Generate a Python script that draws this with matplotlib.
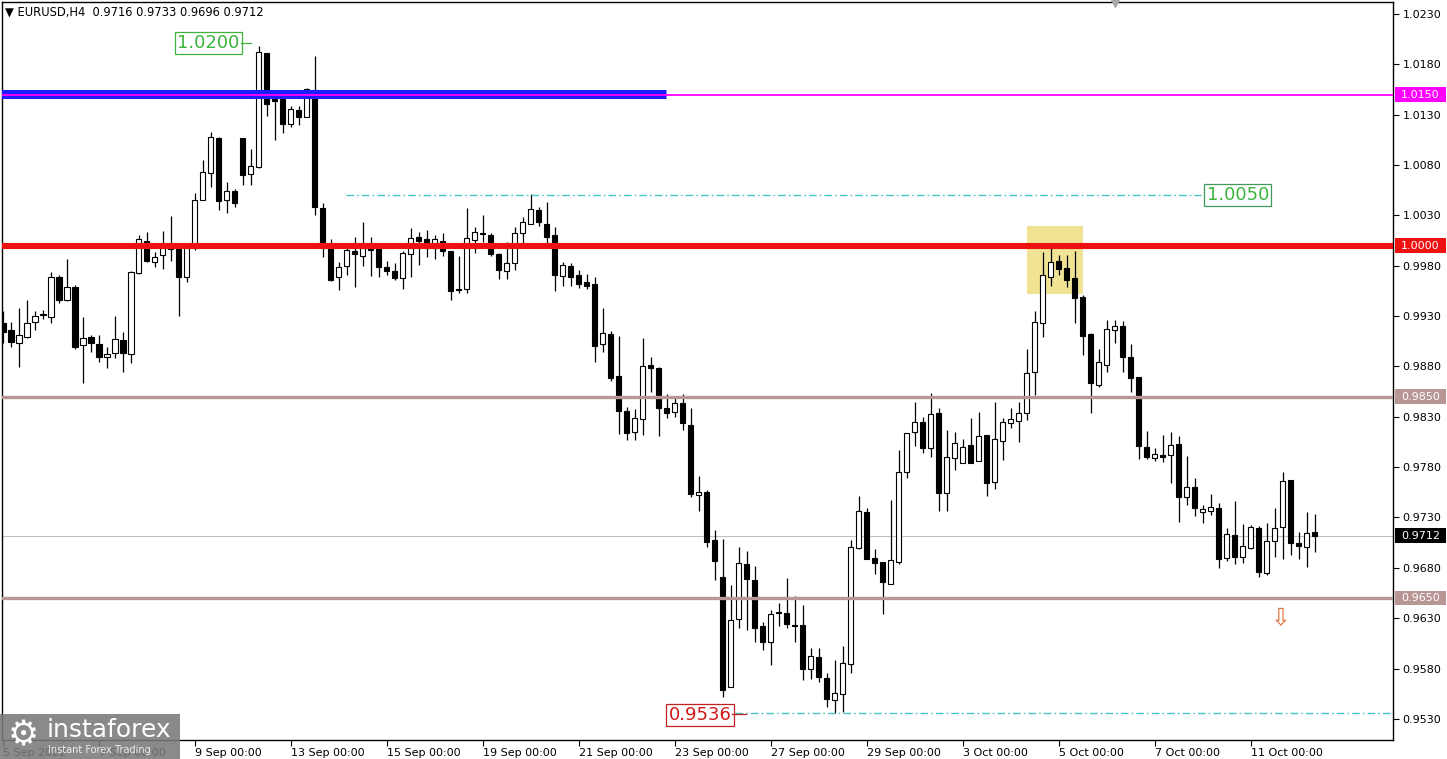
import numpy as np
import matplotlib.pyplot as plt
import matplotlib.transforms as mtransforms
from matplotlib.patches import Rectangle

# EURUSD H4, 5 Sep 2022 00:00 .. 12 Oct 2022 08:00, prices in pips (x 1e-4)
opens = [9923, 9916, 9903, 9909, 9924, 9931, 9929, 9969, 9946, 9959,
         9901, 9909, 9902, 9889, 9893, 9906, 9892, 9973, 10005, 9984,
         9991, 9997, 9998, 9969, 9998, 10045, 10072, 10107, 10045, 10054,
         10107, 10071, 10078, 10191, 10146, 10146, 10121, 10135, 10128, 10155,
         10037, 9998, 9969, 9980, 9995, 9990, 9999, 9998, 9979, 9975,
         9968, 9992, 10009, 10007, 9998, 10005, 9995, 9957, 9957, 10006,
         10012, 10011, 9992, 9975, 9983, 10013, 10022, 10035, 10022, 10011,
         9970, 9980, 9971, 9964, 9962, 9902, 9912, 9871, 9836, 9815,
         9828, 9881, 9878, 9839, 9835, 9844, 9822, 9752, 9755, 9708,
         9671, 9562, 9629, 9684, 9668, 9622, 9606, 9635, 9635, 9623,
         9623, 9580, 9591, 9571, 9549, 9555, 9584, 9700, 9735, 9690,
         9686, 9664, 9686, 9775, 9815, 9825, 9799, 9834, 9754, 9789,
         9784, 9802, 9786, 9812, 9765, 9806, 9824, 9826, 9834, 9875,
         9923, 9969, 9985, 9978, 9968, 9949, 9912, 9862, 9881, 9916,
         9920, 9889, 9870, 9800, 9789, 9792, 9792, 9803, 9750, 9760,
         9735, 9736, 9739, 9690, 9713, 9691, 9700, 9720, 9675, 9707,
         9721, 9767, 9705, 9701, 9716]
highs = [9935, 9924, 9938, 9946, 9935, 9936, 9974, 9971, 9987, 9961,
         9929, 9911, 9911, 9899, 9930, 9914, 9975, 10011, 10014, 9994,
         10015, 10029, 9998, 10001, 10052, 10085, 10113, 10108, 10063, 10056,
         10107, 10096, 10198, 10191, 10146, 10148, 10139, 10139, 10157, 10188,
         10042, 10007, 9984, 10001, 10009, 10023, 10009, 9998, 9985, 9983,
         9995, 10018, 10014, 10016, 10011, 10013, 9995, 9990, 10037, 10019,
         10030, 10013, 9993, 10004, 10019, 10028, 10051, 10038, 10043, 10019,
         9984, 9983, 9976, 9972, 9969, 9938, 9915, 9910, 9840, 9838,
         9908, 9889, 9879, 9853, 9849, 9853, 9839, 9771, 9757, 9718,
         9709, 9663, 9701, 9697, 9682, 9626, 9638, 9645, 9670, 9652,
         9643, 9600, 9600, 9576, 9588, 9602, 9708, 9751, 9739, 9699,
         9686, 9747, 9797, 9814, 9845, 9830, 9854, 9839, 9817, 9815,
         9808, 9829, 9835, 9812, 9845, 9829, 9839, 9845, 9897, 9935,
         9994, 9998, 9991, 9991, 9995, 9951, 9913, 9897, 9926, 9926,
         9925, 9902, 9870, 9816, 9799, 9812, 9815, 9811, 9791, 9769,
         9742, 9753, 9744, 9720, 9746, 9724, 9723, 9722, 9725, 9739,
         9775, 9767, 9716, 9735, 9733]
lows = [9903, 9899, 9879, 9908, 9916, 9927, 9923, 9943, 9945, 9897,
        9864, 9894, 9884, 9878, 9888, 9875, 9883, 9972, 9984, 9979,
        9977, 9985, 9930, 9964, 9996, 10045, 10058, 10035, 10032, 10038,
        10060, 10060, 10077, 10129, 10105, 10112, 10118, 10120, 10128, 10030,
        9989, 9965, 9956, 9971, 9959, 9980, 9970, 9969, 9971, 9966,
        9957, 9969, 9981, 9989, 9987, 9990, 9946, 9953, 9953, 9993,
        10004, 9990, 9967, 9967, 9976, 10003, 10022, 10020, 10003, 9955,
        9960, 9960, 9958, 9957, 9884, 9894, 9866, 9813, 9807, 9807,
        9812, 9855, 9811, 9829, 9830, 9817, 9750, 9736, 9701, 9668,
        9552, 9562, 9620, 9618, 9606, 9598, 9583, 9622, 9620, 9606,
        9569, 9570, 9567, 9542, 9536, 9537, 9576, 9699, 9689, 9674,
        9634, 9664, 9684, 9769, 9801, 9794, 9790, 9736, 9736, 9777,
        9784, 9784, 9786, 9751, 9758, 9787, 9819, 9805, 9827, 9852,
        9909, 9960, 9971, 9959, 9923, 9891, 9834, 9860, 9875, 9903,
        9875, 9855, 9788, 9788, 9786, 9785, 9764, 9726, 9742, 9731,
        9725, 9732, 9680, 9687, 9684, 9685, 9699, 9671, 9673, 9691,
        9689, 9693, 9689, 9681, 9696]
closes = [9914, 9904, 9911, 9923, 9930, 9932, 9969, 9946, 9959, 9899,
          9908, 9903, 9889, 9892, 9907, 9893, 9974, 10007, 9985, 9989,
          9998, 9999, 9969, 9998, 10045, 10073, 10108, 10044, 10054, 10042,
          10070, 10079, 10192, 10141, 10144, 10121, 10136, 10128, 10156, 10038,
          10003, 9966, 9979, 9996, 9992, 9998, 9996, 9979, 9975, 9968,
          9993, 10008, 10005, 9998, 10007, 9995, 9955, 9956, 10008, 10014,
          10012, 9992, 9976, 9983, 10013, 10023, 10036, 10023, 10009, 9971,
          9981, 9969, 9962, 9960, 9900, 9913, 9869, 9836, 9814, 9829,
          9880, 9878, 9839, 9834, 9844, 9824, 9753, 9755, 9706, 9687,
          9559, 9628, 9685, 9669, 9620, 9606, 9634, 9636, 9624, 9622,
          9580, 9592, 9572, 9550, 9556, 9585, 9701, 9736, 9689, 9685,
          9666, 9688, 9775, 9814, 9825, 9799, 9833, 9754, 9790, 9804,
          9800, 9784, 9811, 9764, 9808, 9825, 9828, 9834, 9874, 9924,
          9971, 9984, 9977, 9966, 9948, 9910, 9864, 9884, 9917, 9920,
          9889, 9869, 9801, 9790, 9793, 9790, 9802, 9750, 9760, 9739,
          9738, 9740, 9689, 9714, 9691, 9702, 9721, 9676, 9707, 9720,
          9766, 9705, 9702, 9715, 9712]

# time axis labels (one every 12 bars)
tick_idx = [0, 12, 24, 36, 48, 60, 72, 84, 96, 108, 120, 132, 144, 156]
tick_labels = ['5 Sep 2022', '7 Sep 00:00', '9 Sep 00:00', '13 Sep 00:00',
               '15 Sep 00:00', '19 Sep 00:00', '21 Sep 00:00', '23 Sep 00:00',
               '27 Sep 00:00', '29 Sep 00:00', '3 Oct 00:00', '5 Oct 00:00',
               '7 Oct 00:00', '11 Oct 00:00']
price_ticks = [1.0230, 1.0180, 1.0130, 1.0080, 1.0030, 0.9980, 0.9930, 0.9880,
               0.9830, 0.9780, 0.9730, 0.9680, 0.9630, 0.9580, 0.9530]

# horizontal levels: price, colour, line width
levels = [(1.0150, '#ff00ff', 1.3), (1.0000, '#ee1111', 4.4),
          (0.9850, '#b89694', 2.4), (0.9650, '#b89694', 2.4)]
current_price = 0.9712

o = np.array(opens) / 10000
h = np.array(highs) / 10000
l = np.array(lows) / 10000
c = np.array(closes) / 10000
idx = np.arange(len(o))

fig = plt.figure(figsize=(14.47, 7.59), dpi=100)
ax = fig.add_axes([2 / 1447, 19 / 759, 1391 / 1447, 738 / 759])
ax.set_xlim(-0.1, 173.8)
ax.set_ylim(0.9509, 1.0242)

# yellow zone around the 1.0000 retest
ax.add_patch(Rectangle((128, 0.9952), 7, 0.0068, fc='#f0e394', ec='none', zorder=0))

# current price line
ax.axhline(current_price, color='#c0c0c0', lw=0.8, zorder=1)

# candles
up = c >= o
ax.vlines(idx, l, h, color='black', lw=0.9, zorder=2)
body_lo = np.minimum(o, c)
body_h = np.maximum(np.abs(c - o), 0.00002)
ax.bar(idx[up], body_h[up], bottom=body_lo[up], width=0.68,
       facecolor='white', edgecolor='black', linewidth=0.8, zorder=3)
ax.bar(idx[~up], body_h[~up], bottom=body_lo[~up], width=0.68,
       facecolor='black', edgecolor='black', linewidth=0.8, zorder=3)

# blue band at 1.0150 (left part only)
ax.plot([-1, 82.9], [1.0151, 1.0151], color='#1c1cff', lw=6.5, solid_capstyle='butt', zorder=4)

# levels
for p, col, lw in levels:
    ax.axhline(p, color=col, lw=lw, zorder=5)

# dash-dot target lines
dd = (0, (5.5, 2.2, 1.2, 2.2))
ax.plot([42.9, 149.75], [1.0050, 1.0050], color='#48c4c8', lw=1.0, ls=dd, zorder=4)
ax.plot([91.6, 175], [0.9536, 0.9536], color='#48c4c8', lw=1.0, ls=dd, zorder=4)

# price labels on chart
ax.text(29.6, 1.0201, '1.0200', ha='right', va='center', fontsize=13, color='#3cb43c',
        bbox=dict(boxstyle='square,pad=0.12', fc='white', ec='#3cb43c', lw=0.9), zorder=6)
ax.plot([29.75, 31], [1.0201, 1.0201], color='#3cb43c', lw=0.9, zorder=6)
ax.text(150.5, 1.0050, '1.0050', ha='left', va='center', fontsize=13, color='#3cb43c',
        bbox=dict(boxstyle='square,pad=0.12', fc='white', ec='#3c9a5a', lw=0.9), zorder=6)
ax.text(91.1, 0.9534, '0.9536', ha='right', va='center', fontsize=13, color='#d01818',
        bbox=dict(boxstyle='square,pad=0.12', fc='white', ec='#c02020', lw=0.9), zorder=6)
ax.plot([91.2, 92.9], [0.9535, 0.9535], color='#c02020', lw=0.9, zorder=6)

# expected move arrow
ax.text(159.75, 0.9631, '\u21e9', ha='center', va='center', fontsize=17, color='#e2703a', zorder=6)

# axes styling
for s in ax.spines.values():
    s.set_color('black')
    s.set_linewidth(1)
ax.yaxis.tick_right()
ax.set_yticks(price_ticks)
ax.set_yticklabels([f'{p:.4f}' for p in price_ticks])
ax.tick_params(axis='y', direction='out', length=4, pad=3, labelsize=8, colors='black')
ax.set_xticks(tick_idx)
ax.set_xticklabels(tick_labels)
for lbl in ax.get_xticklabels():
    lbl.set_ha('left')
ax.tick_params(axis='x', direction='out', length=4, pad=2, labelsize=8, colors='black')

# level labels on the price scale
trans = mtransforms.blended_transform_factory(ax.transAxes, ax.transData)
box_w = 51 / 1391
box_h = 0.00145
for p, col, lw in levels + [(current_price, 'black', 1)]:
    ax.add_patch(Rectangle((1.0015, p - box_h / 2), box_w, box_h, transform=trans,
                           fc=col, ec='none', clip_on=False, zorder=7))
    ax.text(1.0015 + box_w / 2, p, f'{p:.4f}', transform=trans, ha='center', va='center',
            fontsize=8, color='white', clip_on=False, zorder=8)

# chart shift marker
ax.plot([139.1], [1.0], marker='v', ms=7, color='#a8a8a8',
        transform=mtransforms.blended_transform_factory(ax.transData, ax.transAxes),
        clip_on=False, zorder=7)

# header
fig.text(5 / 1447, 1 - 12 / 759, '\u25bc EURUSD,H4  0.9716 0.9733 0.9696 0.9712',
         fontsize=8.3, va='center', ha='left')

# watermark logo
fig.add_artist(Rectangle((0, 0), 180 / 1447, 45 / 759, transform=fig.transFigure,
                         fc='#7a7a7a', ec='none', alpha=0.88, zorder=10))
fig.text(23 / 1447, 1 - 735 / 759, '\u2699', fontsize=25, color='white',
         ha='center', va='center', zorder=11)
fig.text(47 / 1447, 1 - 730 / 759, 'instaforex', fontsize=18, color='white',
         ha='left', va='center', zorder=11)
fig.text(48 / 1447, 1 - 750 / 759, 'Instant Forex Trading', fontsize=7, color='#eeeeee',
         ha='left', va='center', zorder=11)

fig.savefig('out.png', dpi=100)
